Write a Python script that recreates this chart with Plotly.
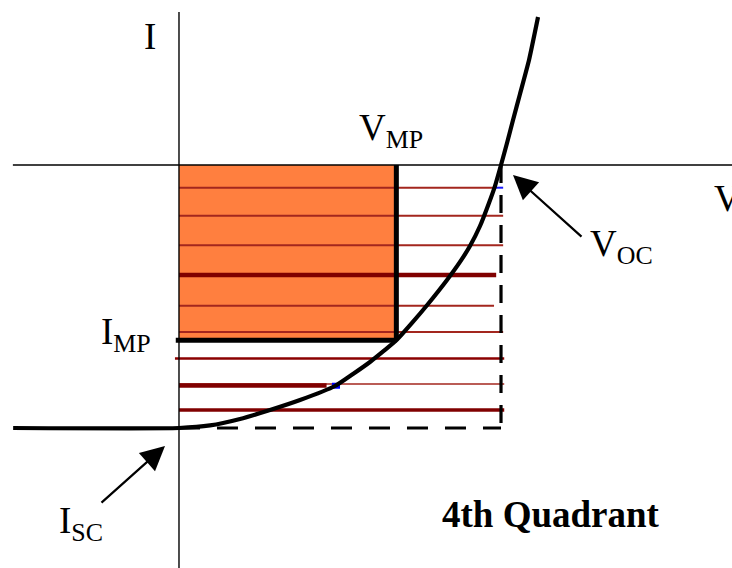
import plotly.graph_objects as go

W, H = 732, 568

# I-V characteristic of a solar cell (voltage in V, current in A; illuminated -> 4th quadrant)
curve_v = [-0.309, 0.0, 0.0578, 0.1137, 0.1696, 0.2255, 0.2907, 0.3242, 0.3559, 0.3838,
           0.405, 0.4342, 0.4640, 0.4994, 0.5236, 0.5422, 0.5609, 0.5776, 0.5888, 0.600,
           0.6112, 0.6224, 0.6354, 0.6522, 0.6690]
curve_i = [-3.0, -3.0, -2.971, -2.897, -2.795, -2.681, -2.521, -2.384, -2.247, -2.110,
           -2.0, -1.802, -1.586, -1.312, -1.106, -0.924, -0.696, -0.433, -0.240, 0.0,
           0.251, 0.513, 0.810, 1.198, 1.688]

V_OC = 0.600
I_SC = -3.0
V_MP = 0.405
I_MP = -2.0

# horizontal hatch lines across the Voc x Isc box
hatch_levels = [-0.259, -0.578, -0.916, -1.255, -1.605, -1.905, -2.207, -2.498, -2.795]
hatch_start = [0.0, 0.0, 0.0, 0.0, 0.0, 0.0, -0.0075, 0.0, 0.0]
hatch_end = [0.585, 0.604, 0.604, 0.591, 0.587, 0.604, 0.606, 0.606, 0.606]
hatch_width = [2, 2, 2, 4.5, 2, 2, 2.6, 1.6, 3.6]
hatch_color = ["#a3261e", "#a3261e", "#a3261e", "#800000", "#a3261e", "#a3261e",
               "#8b0000", "#a3261e", "#800000"]

X_RANGE = [-0.3335, 1.0304]
Y_RANGE = [-4.597, 1.882]

fig = go.Figure()


def seg(xs, ys, color, width, dash=None):
    fig.add_trace(go.Scatter(x=xs, y=ys, mode="lines",
                             line=dict(color=color, width=width, dash=dash),
                             hoverinfo="skip", showlegend=False))


# maximum-power rectangle
fig.add_trace(go.Scatter(x=[0, V_MP, V_MP, 0, 0], y=[0, 0, I_MP, I_MP, 0],
                         mode="lines", fill="toself", fillcolor="#ff7f3f",
                         line=dict(width=0), hoverinfo="skip", showlegend=False))

# hatch lines
for lvl, x0, x1, w, c in zip(hatch_levels, hatch_start, hatch_end, hatch_width, hatch_color):
    seg([x0, x1], [lvl, lvl], c, w)
# heavier left part of the eighth hatch line
seg([0.0, 0.275], [hatch_levels[7] - 0.018, hatch_levels[7] - 0.018], "#800000", 4.5)
# small blue specks
seg([0.585, 0.604], [hatch_levels[0], hatch_levels[0]], "#1a1aff", 2)
seg([0.285, 0.300], [hatch_levels[7] - 0.02, hatch_levels[7] - 0.02], "#0000ff", 6)

# dashed Voc / Isc box
seg([V_OC, V_OC], [0, I_SC], "black", 3.2, "18px,12px")
seg([0, V_OC], [I_SC, I_SC], "black", 3.2, "21px,17px")

# Vmp / Imp boundaries
seg([V_MP, V_MP], [0, I_MP], "black", 5)
seg([-0.006, V_MP], [I_MP, I_MP], "black", 5)

# axes
seg([X_RANGE[0] + 0.024, X_RANGE[1]], [0, 0], "black", 1.4)
seg([0, 0], [1.745, Y_RANGE[0]], "black", 1.4)

# I-V curve
fig.add_trace(go.Scatter(x=curve_v, y=curve_i, mode="lines",
                         line=dict(color="black", width=4.2, shape="spline", smoothing=0.5),
                         hoverinfo="skip", showlegend=False))

SERIF = "Liberation Serif, Times New Roman, serif"


def px(x):
    return x / W


def py(y):
    return 1 - y / H


def label(text, x, y, size=37, xanchor="center", bold=False):
    if bold:
        text = "<b>" + text + "</b>"
    fig.add_annotation(x=px(x), y=py(y), xref="paper", yref="paper", text=text,
                       showarrow=False, xanchor=xanchor, yanchor="middle",
                       font=dict(family=SERIF, size=size, color="black"))


label("I", 150, 36)
label("V", 712, 198, xanchor="left")
label("V<sub>MP</sub>", 391, 130)
label("I<sub>MP</sub>", 126, 334)
label("V<sub>OC</sub>", 621, 246)
label("I<sub>SC</sub>", 81, 523)
label("4th Quadrant", 551, 514, size=37, bold=True)


def arrow(tip, tail):
    fig.add_annotation(x=px(tip[0]), y=py(tip[1]), xref="paper", yref="paper",
                       ax=tail[0] - tip[0], ay=tail[1] - tip[1], text="",
                       showarrow=True, arrowhead=2, arrowsize=2.2, arrowwidth=2.2,
                       arrowcolor="black", standoff=0)


arrow((513, 175), (583, 238))
arrow((165, 446), (100, 504))

fig.update_layout(width=W, height=H, margin=dict(l=0, r=0, t=0, b=0),
                  paper_bgcolor="white", plot_bgcolor="white",
                  xaxis=dict(range=X_RANGE, visible=False, fixedrange=True),
                  yaxis=dict(range=Y_RANGE, visible=False, fixedrange=True),
                  showlegend=False)

fig.write_html("out.html")
